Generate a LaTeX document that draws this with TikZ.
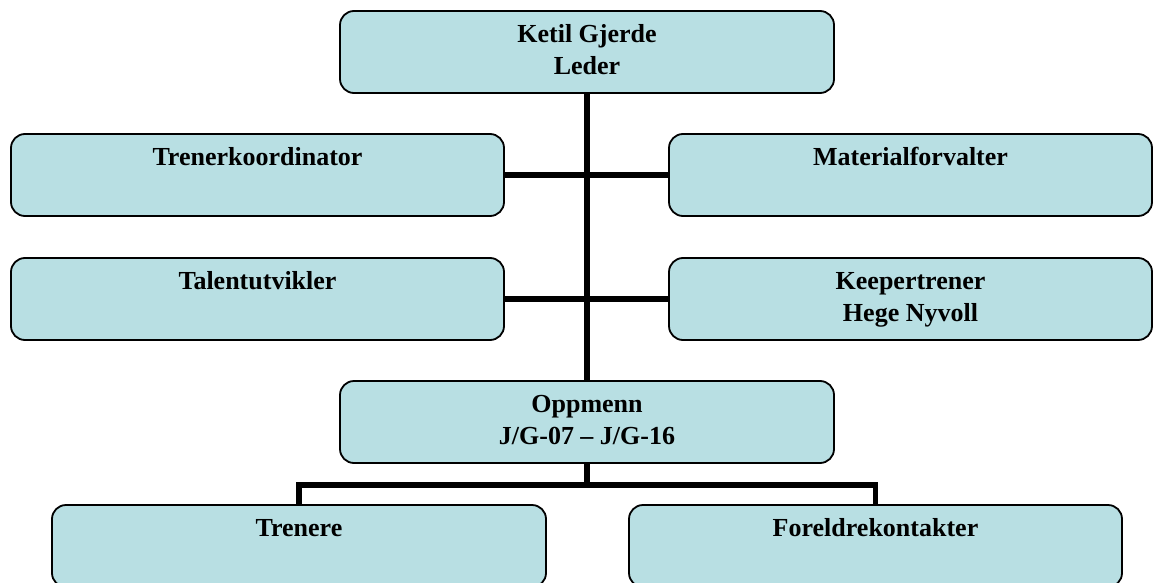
\documentclass[tikz,border=0pt]{standalone}
\usepackage{fontspec}
\setmainfont{Liberation Serif}
\definecolor{boxfill}{HTML}{B8DFE3}
\begin{document}
\begin{tikzpicture}[x=1pt,y=-1pt,
  orgbox/.style={draw=black,line width=1.8pt,rounded corners=14pt,fill=boxfill,
    minimum height=82pt,inner sep=0pt,align=center,
    font=\fontsize{26}{32}\selectfont\bfseries},
  conn/.style={line width=5.5pt,draw=black}]
\useasboundingbox (0,0) rectangle (1153,583);
\node[orgbox,minimum width=494pt] (top) at (587,52) {\strut Ketil Gjerde\\\strut Leder};
\node[orgbox,minimum width=493pt] (tk) at (257.5,175) {\strut Trenerkoordinator\\\strut};
\node[orgbox,minimum width=483pt] (mf) at (910.5,175) {\strut Materialforvalter\\\strut};
\node[orgbox,minimum width=493pt] (tu) at (257.5,299) {\strut Talentutvikler\\\strut};
\node[orgbox,minimum width=483pt] (kt) at (910.5,299) {\strut Keepertrener\\\strut Hege Nyvoll};
\node[orgbox,minimum width=494pt] (op) at (587,422) {\strut Oppmenn\\\strut J/G-07 – J/G-16};
\node[orgbox,minimum width=494pt] (tr) at (299,546) {\strut Trenere\\\strut};
\node[orgbox,minimum width=493pt] (fk) at (875.5,546) {\strut Foreldrekontakter\\\strut};
\coordinate (bus) at (587,485);
\draw[conn] (top.south) -- (op.north);
\draw[conn] (tk.east) -- (mf.west);
\draw[conn] (tu.east) -- (kt.west);
\draw[conn] (op.south) -- (bus);
\draw[conn] (tr.north) |- (bus) -| (fk.north);
\end{tikzpicture}
\end{document}
